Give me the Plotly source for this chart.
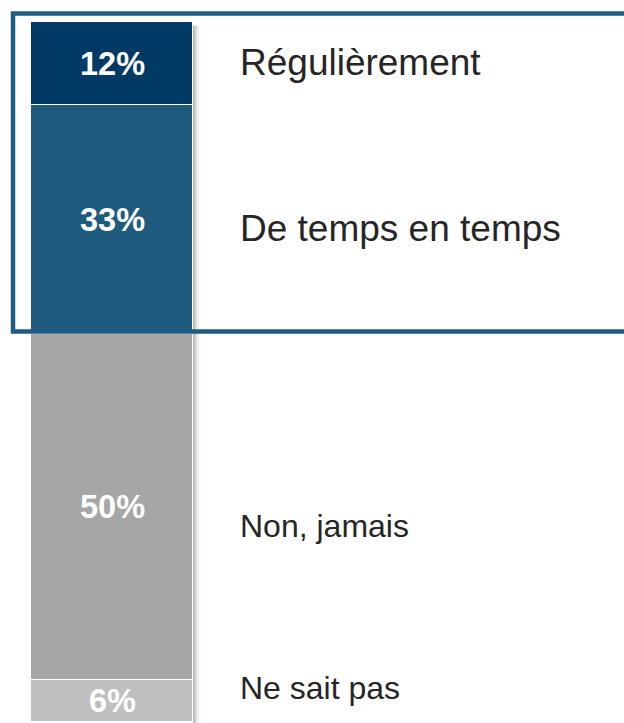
import plotly.graph_objects as go

# ---- data ----
categories = ["Régulièrement", "De temps en temps", "Non, jamais", "Ne sait pas"]
values = [12, 33, 50, 6]
pct_labels = ["12%", "33%", "50%", "6%"]

# ---- styles ----
seg_colors = ["#023A66", "#1E5B7F", "#A6A6A6", "#BFBFBF"]
label_sizes = [37, 37, 32, 32]
label_yshift = [1, -9, -19, 13]   # pixel offsets of category labels
W, H = 624, 723
top_px, bot_px = 22, 722
k = (bot_px - top_px) / sum(values)   # px per percent
yr = [(H - top_px) / k, -top_px / k]  # reversed range
bar_x, bar_w = 112, 162
font = "Liberation Sans, Arial, sans-serif"

fig = go.Figure()
for cat, v, c in zip(categories, values, seg_colors):
    fig.add_trace(go.Bar(
        x=[bar_x], y=[v], width=[bar_w], name=cat,
        marker=dict(color=c, line=dict(color="white", width=1.5)),
        hoverinfo="skip", showlegend=False,
    ))

annotations = []
cum = 0
for i, (cat, v, lab) in enumerate(zip(categories, values, pct_labels)):
    mid = cum + v / 2
    cum += v
    annotations.append(dict(
        x=bar_x, y=mid, xref="x", yref="y", text="<b>" + lab + "</b>",
        showarrow=False, xanchor="center", yanchor="middle",
        font=dict(family=font, size=32.5, color="white"),
    ))
    annotations.append(dict(
        x=238, y=mid, xref="x", yref="y", text=cat, yshift=label_yshift[i],
        showarrow=False, xanchor="left", yanchor="middle",
        font=dict(family=font, size=label_sizes[i], color="#262626"),
    ))

shapes = []
# shadow to the right of the bar
x_edge = bar_x + bar_w / 2
for j, op in enumerate([0.45, 0.35, 0.26, 0.18, 0.12, 0.07, 0.04, 0.02]):
    shapes.append(dict(
        type="rect", xref="x", yref="y",
        x0=x_edge + j, x1=x_edge + j + 1, y0=0.5, y1=sum(values) + 1,
        fillcolor=f"rgba(90,90,90,{op})", line=dict(width=0), layer="below",
    ))
# highlight frame around first two categories
frame_top = (13.5 - top_px) / k
frame_bot = (331.5 - top_px) / k
shapes.append(dict(
    type="rect", xref="x", yref="y", x0=13, x1=660, y0=frame_top, y1=frame_bot,
    line=dict(color="#1F5B80", width=4.5), fillcolor="rgba(0,0,0,0)", layer="above",
))

fig.update_layout(
    width=W, height=H, barmode="stack",
    margin=dict(l=0, r=0, t=0, b=0),
    paper_bgcolor="white", plot_bgcolor="white",
    xaxis=dict(range=[0, W], visible=False, fixedrange=True),
    yaxis=dict(range=yr, visible=False, fixedrange=True),
    annotations=annotations, shapes=shapes, bargap=0,
)
fig.write_html(
    "out.html",
    config={"displayModeBar": False},
    post_script="document.body.style.margin='0px';document.body.style.overflow='hidden';",
)
